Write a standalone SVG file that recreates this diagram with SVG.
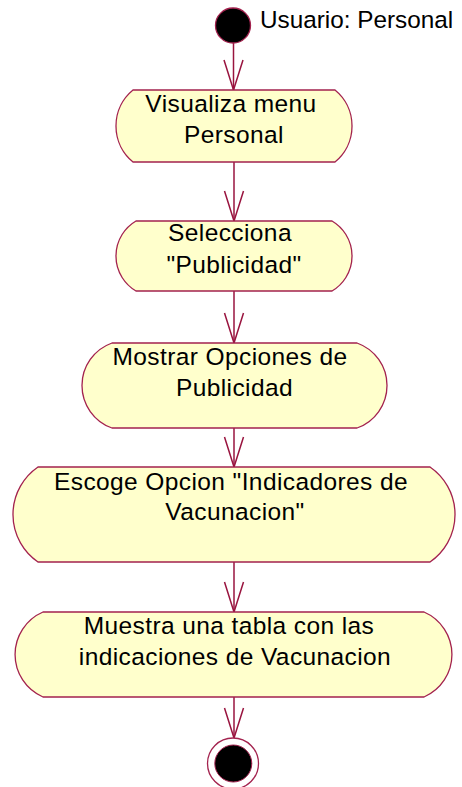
<svg xmlns="http://www.w3.org/2000/svg" width="462" height="787" viewBox="0 0 462 787">
<defs>
<style>
.act{fill:#FFFFCC;stroke:#A3224E;stroke-width:1.3}
.t{font-family:"Liberation Sans",Arial,sans-serif;font-size:24.5px;letter-spacing:0.4px;fill:#000;text-anchor:middle}
.c{stroke:#99143F;stroke-width:1.5;fill:none}
</style>
<marker id="arr" markerUnits="userSpaceOnUse" markerWidth="34" markerHeight="24" refX="31" refY="11" orient="auto" viewBox="0 0 34 22" overflow="visible">
<path d="M1,1.5 L31,11 L1,20.5" fill="none" stroke="#99143F" stroke-width="1.5"/>
</marker>
</defs>
<rect width="462" height="787" fill="#fff"/>
<g id="connectors">
<path class="c" d="M233.5,43 V90" marker-end="url(#arr)"/>
<path class="c" d="M234,162 V221" marker-end="url(#arr)"/>
<path class="c" d="M234,291 V343" marker-end="url(#arr)"/>
<path class="c" d="M234,428 V467" marker-end="url(#arr)"/>
<path class="c" d="M234,562 V612" marker-end="url(#arr)"/>
<path class="c" d="M234,697 V738" marker-end="url(#arr)"/>
</g>
<g id="start">
<circle cx="233" cy="25.5" r="17.5" fill="#000" stroke="#A3224E" stroke-width="1.3"/>
<text x="260" y="28" style="font-family:'Liberation Sans',Arial,sans-serif;font-size:24.3px">Usuario: Personal</text>
</g>
<g id="n1">
<path class="act" d="M133,90 H335 A46.6,46.6 0 0 1 335,162 H133 A46.6,46.6 0 0 1 133,90 Z"/>
<text class="t" x="231" y="112">Visualiza menu</text>
<text class="t" x="234" y="143">Personal</text>
</g>
<g id="n2">
<path class="act" d="M136,221 H332 A40.6,40.6 0 0 1 332,291 H136 A40.6,40.6 0 0 1 136,221 Z"/>
<text class="t" x="230" y="241">Selecciona</text>
<text class="t" x="234" y="272.5">"Publicidad"</text>
</g>
<g id="n3">
<path class="act" d="M112,343 H357 A45.1,45.1 0 0 1 357,428 H112 A45.1,45.1 0 0 1 112,343 Z"/>
<text class="t" x="230" y="365">Mostrar Opciones de</text>
<text class="t" x="234.5" y="395.5">Publicidad</text>
</g>
<g id="n4">
<path class="act" d="M38,467 H430 A57.6,57.6 0 0 1 430,562 H38 A57.6,57.6 0 0 1 38,467 Z"/>
<text class="t" x="231" y="489.5">Escoge Opcion "Indicadores de</text>
<text class="t" x="235" y="520">Vacunacion"</text>
</g>
<g id="n5">
<path class="act" d="M43,612 H424 A46.3,46.3 0 0 1 424,697 H43 A46.3,46.3 0 0 1 43,612 Z"/>
<text class="t" x="229" y="633.5">Muestra una tabla con las</text>
<text class="t" x="235" y="664.5">indicaciones de Vacunacion</text>
</g>
<g id="end">
<circle cx="233" cy="763.5" r="25.5" fill="#fff" stroke="#A3224E" stroke-width="1.3"/>
<circle cx="233.3" cy="763.5" r="18.5" fill="#000" stroke="#A3224E" stroke-width="1"/>
</g>
</svg>
